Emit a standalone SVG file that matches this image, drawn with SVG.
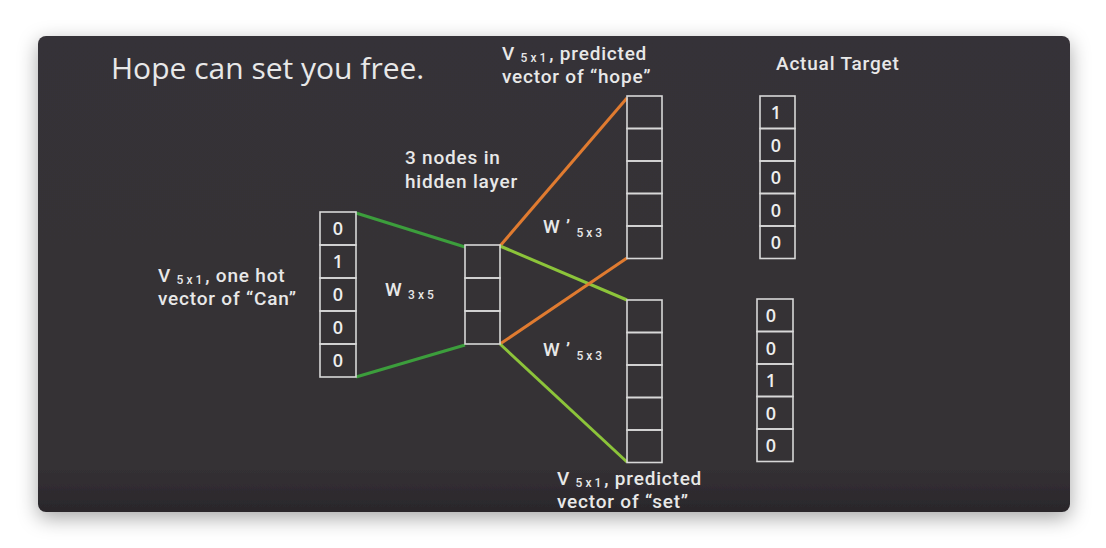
<svg xmlns="http://www.w3.org/2000/svg" width="1106" height="548" viewBox="0 0 1106 548">
<defs>
<filter id="sh" x="-10%" y="-10%" width="120%" height="130%">
<feDropShadow dx="0" dy="6" stdDeviation="10" flood-color="#000" flood-opacity="0.35"/>
</filter>
<clipPath id="card"><rect x="38" y="36" width="1032" height="476" rx="8"/></clipPath>
<linearGradient id="bg" x1="0" y1="0" x2="0" y2="1">
<stop offset="0" stop-color="#363337"/>
<stop offset="0.9" stop-color="#353135"/>
<stop offset="1" stop-color="#2a272b"/>
</linearGradient>
</defs>
<style>
.t{font-family:Roboto,"Liberation Sans",sans-serif;fill:#e8e8e8;font-size:19px;font-weight:500;letter-spacing:0.8px}
.s{font-size:12px;letter-spacing:3px;font-weight:500}
.cell{fill:none;stroke:#d8d8d8;stroke-width:1.6}
.n{font-family:"Open Sans","Liberation Sans",sans-serif;fill:#eeeeee;font-size:18px;font-weight:600;text-anchor:middle}
.g1{stroke:#3c9e3c;stroke-width:3;fill:none}
.g2{stroke:#8cc43a;stroke-width:3;fill:none}
.o{stroke:#e07b30;stroke-width:3;fill:none}
</style>
<rect width="1106" height="548" fill="#ffffff"/>
<rect x="38" y="36" width="1032" height="476" rx="8" fill="url(#bg)" filter="url(#sh)"/>
<g clip-path="url(#card)">
<text x="111" y="79" style="font-family:'Open Sans','Liberation Sans',sans-serif;fill:#e8e8e8;font-size:30px;font-weight:500">Hope can set you free.</text>

<g id="connectors">
<line class="g1" x1="356" y1="213" x2="465" y2="247"/>
<line class="g1" x1="356" y1="377" x2="465" y2="345"/>
<line class="o" x1="500" y1="246" x2="627" y2="98"/>
<line class="g2" x1="500" y1="246" x2="627" y2="300"/>
<line class="o" x1="500" y1="344" x2="627" y2="258"/>
<line class="g2" x1="500" y1="344" x2="627" y2="462"/>
</g>

<g id="input">
<rect class="cell" x="320" y="212" width="36" height="33"/>
<rect class="cell" x="320" y="245" width="36" height="33"/>
<rect class="cell" x="320" y="278" width="36" height="33"/>
<rect class="cell" x="320" y="311" width="36" height="33"/>
<rect class="cell" x="320" y="344" width="36" height="33"/>
<text class="n" x="338" y="235">0</text>
<text class="n" x="338" y="268">1</text>
<text class="n" x="338" y="301">0</text>
<text class="n" x="338" y="334">0</text>
<text class="n" x="338" y="367">0</text>
</g>
<g id="input-label">
<text class="t" x="158" y="282">V <tspan class="s" dy="2">5x1</tspan><tspan dy="-2">, one hot</tspan><tspan x="158" dy="23">vector of “Can”</tspan></text>
</g>
<g id="w-label">
<text class="t" x="385" y="296">W <tspan class="s" dy="3">3x5</tspan></text>
</g>

<g id="hidden">
<rect class="cell" x="465" y="245" width="35" height="33"/>
<rect class="cell" x="465" y="278" width="35" height="33"/>
<rect class="cell" x="465" y="311" width="35" height="33"/>
</g>
<g id="hidden-label">
<text class="t" x="405" y="164">3 nodes in<tspan x="405" dy="24">hidden layer</tspan></text>
</g>

<g id="out-hope">
<rect class="cell" x="627" y="96" width="35" height="32.5"/>
<rect class="cell" x="627" y="128.5" width="35" height="32.5"/>
<rect class="cell" x="627" y="161" width="35" height="32.5"/>
<rect class="cell" x="627" y="193.5" width="35" height="32.5"/>
<rect class="cell" x="627" y="226" width="35" height="32.5"/>
</g>
<g id="out-hope-label">
<text class="t" x="502" y="60">V <tspan class="s" dy="2">5x1</tspan><tspan dy="-2">, predicted</tspan><tspan x="502" dy="23">vector of “hope”</tspan></text>
</g>
<g id="w1-label">
<text class="t" x="543" y="233">W ’ <tspan class="s" dy="4">5x3</tspan></text>
</g>

<g id="out-set">
<rect class="cell" x="627" y="300" width="35" height="32.5"/>
<rect class="cell" x="627" y="332.5" width="35" height="32.5"/>
<rect class="cell" x="627" y="365" width="35" height="32.5"/>
<rect class="cell" x="627" y="397.5" width="35" height="32.5"/>
<rect class="cell" x="627" y="430" width="35" height="32.5"/>
</g>
<g id="w2-label">
<text class="t" x="543" y="356">W ’ <tspan class="s" dy="4">5x3</tspan></text>
</g>
<g id="out-set-label">
<text class="t" x="557" y="485">V <tspan class="s" dy="2">5x1</tspan><tspan dy="-2">, predicted</tspan><tspan x="557" dy="23">vector of “set”</tspan></text>
</g>

<g id="target-label">
<text class="t" x="776" y="70">Actual Target</text>
</g>
<g id="target-hope">
<rect class="cell" x="760" y="96" width="35" height="32.5"/>
<rect class="cell" x="760" y="128.5" width="35" height="32.5"/>
<rect class="cell" x="760" y="161" width="35" height="32.5"/>
<rect class="cell" x="760" y="193.5" width="35" height="32.5"/>
<rect class="cell" x="760" y="226" width="35" height="32.5"/>
<text class="n" x="776" y="119">1</text>
<text class="n" x="776" y="152">0</text>
<text class="n" x="776" y="184">0</text>
<text class="n" x="776" y="217">0</text>
<text class="n" x="776" y="249">0</text>
</g>
<g id="target-set">
<rect class="cell" x="757" y="299" width="36" height="32.5"/>
<rect class="cell" x="757" y="331.5" width="36" height="32.5"/>
<rect class="cell" x="757" y="364" width="36" height="32.5"/>
<rect class="cell" x="757" y="396.5" width="36" height="32.5"/>
<rect class="cell" x="757" y="429" width="36" height="32.5"/>
<text class="n" x="771" y="322">0</text>
<text class="n" x="771" y="355">0</text>
<text class="n" x="771" y="387">1</text>
<text class="n" x="771" y="420">0</text>
<text class="n" x="771" y="452">0</text>
</g>
</g>
</svg>
